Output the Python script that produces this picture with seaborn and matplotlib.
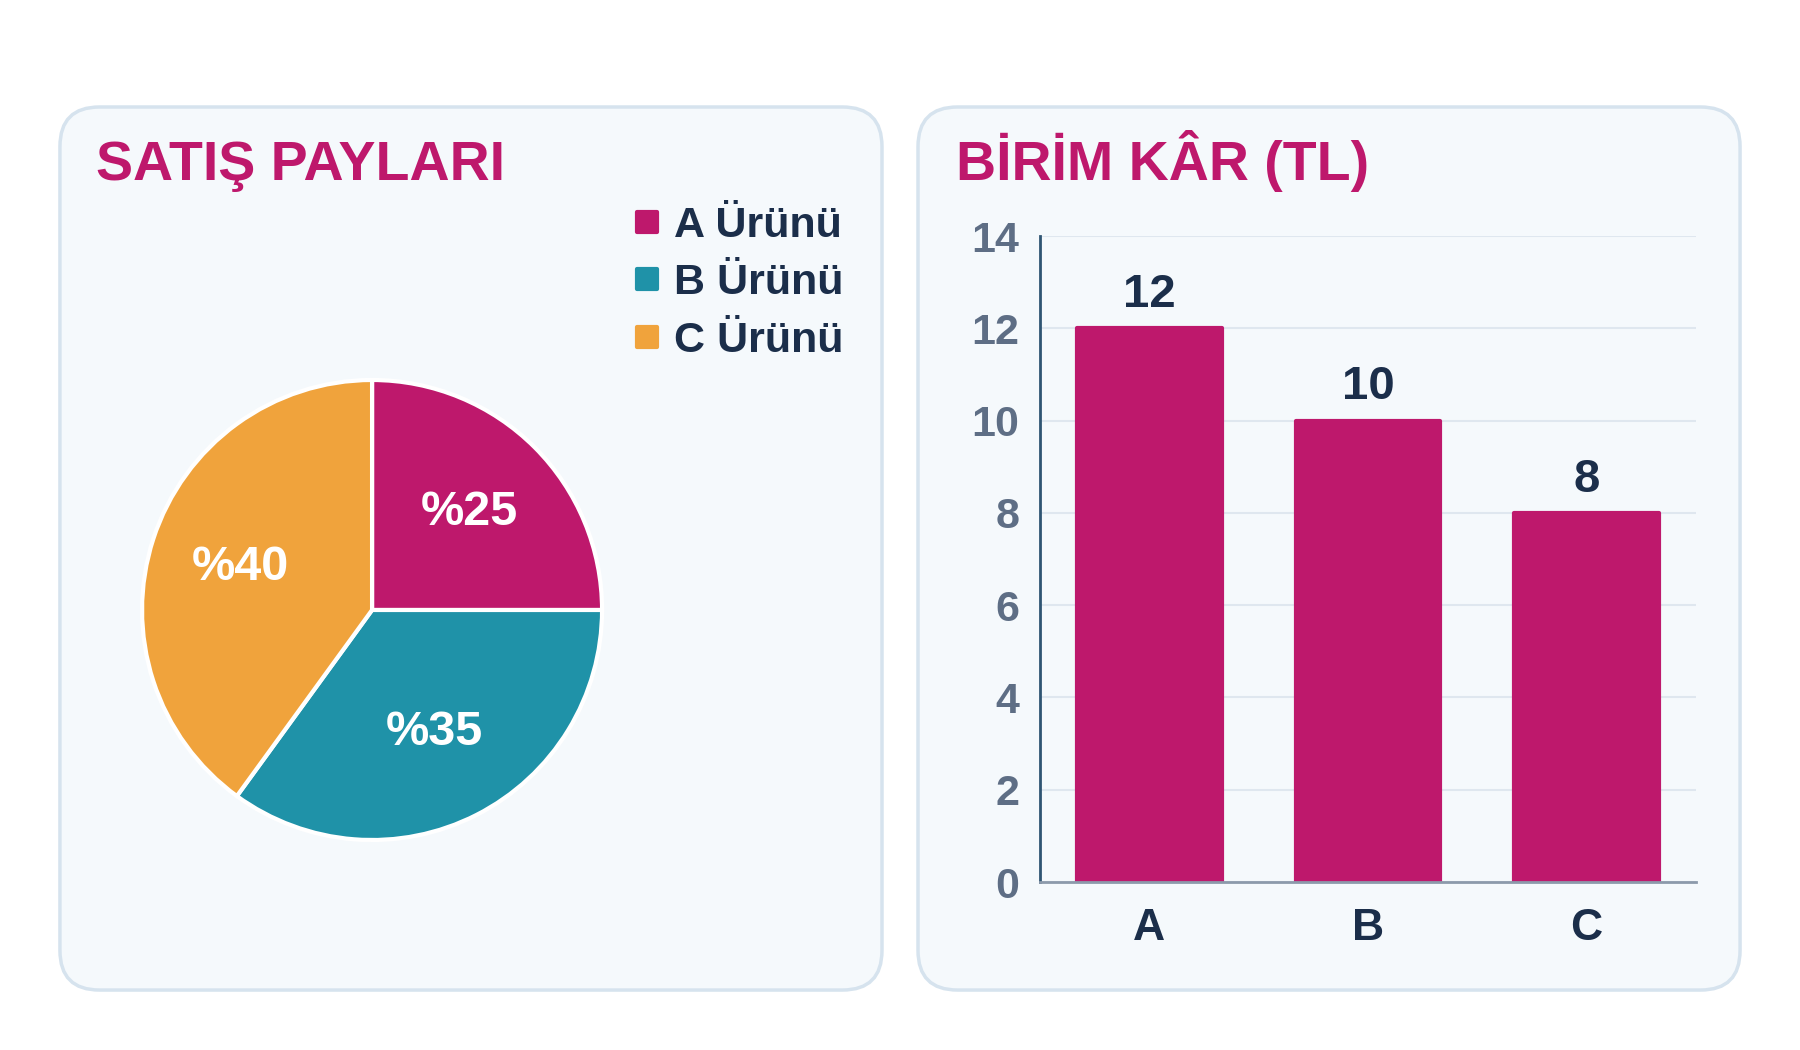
import matplotlib
matplotlib.use("Agg")
import matplotlib.pyplot as plt
from matplotlib.patches import FancyBboxPatch
from matplotlib.lines import Line2D
from matplotlib.markers import MarkerStyle
import pandas as pd
import seaborn as sns

# Veriler
urunler = ["A", "B", "C"]
pay_etiketleri = ["A Ürünü", "B Ürünü", "C Ürünü"]
satis_paylari = [25, 35, 40]
birim_kar = [12, 10, 8]
y_ticks = [0, 2, 4, 6, 8, 10, 12, 14]

MAGENTA = "#BE186C"
TEAL = "#1F92A8"
ORANGE = "#F0A33C"
NAVY = "#1B2E4A"
GRAY = "#5E6E85"
renkler = [MAGENTA, TEAL, ORANGE]

sns.set_theme(style="white")
plt.rcParams["font.family"] = ["Liberation Sans", "DejaVu Sans"]
plt.rcParams["font.weight"] = "bold"

fig = plt.figure(figsize=(18, 10.5), dpi=100)
fig.patch.set_facecolor("white")

# Kart arka planları
for x0 in (0.0333, 0.51):
    kart = FancyBboxPatch((x0, 0.0571), 0.4567, 0.841,
                          boxstyle="round,pad=0,rounding_size=0.022",
                          transform=fig.transFigure, facecolor="#F5F9FC",
                          edgecolor="#D6E3EE", linewidth=2.5,
                          mutation_aspect=1800 / 1050, zorder=-5)
    fig.patches.append(kart)

fig.text(0.0533, 0.829, "SATIŞ PAYLARI", color=MAGENTA, fontsize=40,
         fontweight="bold", va="baseline", ha="left")
fig.text(0.5311, 0.829, "BİRİM KÂR (TL)", color=MAGENTA, fontsize=40,
         fontweight="bold", va="baseline", ha="left")

# Pasta grafiği
ax1 = fig.add_axes([0.0789, 0.2, 0.2556, 0.4381], zorder=2)
wedges, _, autotexts = ax1.pie(
    satis_paylari, colors=renkler, startangle=90, counterclock=False,
    autopct=lambda p: f"%{p:.0f}", pctdistance=0.6,
    wedgeprops=dict(edgecolor="white", linewidth=3),
    textprops=dict(color="white", fontsize=35, fontweight="bold"))
for w in wedges:
    w.set_clip_on(False)
ax1.set_xlim(-1.0, 1.0)
ax1.set_ylim(-1.0, 1.0)
ax1.set_aspect("equal")
ax1.set_facecolor("none")

kare = MarkerStyle("s", joinstyle="round")
handles = [Line2D([0], [0], marker=kare, linestyle="none", markersize=15,
                  markeredgewidth=3, markerfacecolor=c, markeredgecolor=c)
           for c in renkler]
leg = fig.legend(handles, pay_etiketleri, loc="upper left",
                 bbox_to_anchor=(0.338, 0.82), frameon=False, fontsize=31,
                 labelspacing=0.4, handletextpad=0.12, handlelength=1.0,
                 borderaxespad=0)
leg.set_zorder(3)
for t in leg.get_texts():
    t.set_color(NAVY)
    t.set_fontweight("bold")

# Çubuk grafiği
ax2 = fig.add_axes([0.5778, 0.16, 0.3644, 0.6152], zorder=2)
df = pd.DataFrame({"urun": urunler, "kar": birim_kar})
sns.barplot(data=df, x="urun", y="kar", color=MAGENTA, saturation=1,
            width=0.66, ax=ax2, zorder=3)
for p in ax2.patches:
    p.set_edgecolor(MAGENTA)
    p.set_linewidth(3)
    p.set_joinstyle("round")
for c in ax2.containers:
    ax2.bar_label(c, labels=[str(v) for v in birim_kar], padding=8,
                  fontsize=34, fontweight="bold", color=NAVY)
ax2.set_ylim(0, 14)
ax2.set_xlim(-0.5, 2.5)
ax2.set_yticks(y_ticks)
ax2.set_facecolor("none")
ax2.set_xlabel("")
ax2.set_ylabel("")
ax2.grid(axis="y", color="#DFE7EF", linewidth=1.5, zorder=0)
ax2.grid(axis="x", visible=False)
ax2.tick_params(axis="y", length=0, pad=15, labelsize=31, labelcolor=GRAY)
ax2.tick_params(axis="x", length=0, pad=19, labelsize=32, labelcolor=NAVY)
for lbl in ax2.get_yticklabels() + ax2.get_xticklabels():
    lbl.set_fontweight("bold")
for s in ("top", "right"):
    ax2.spines[s].set_visible(False)
ax2.spines["left"].set_color("#2F5573")
ax2.spines["left"].set_linewidth(2)
ax2.spines["bottom"].set_color("#8C9AAB")
ax2.spines["bottom"].set_linewidth(2)
ax2.spines["left"].set_zorder(4)
ax2.spines["bottom"].set_zorder(4)

fig.savefig("out.png", dpi=100)
